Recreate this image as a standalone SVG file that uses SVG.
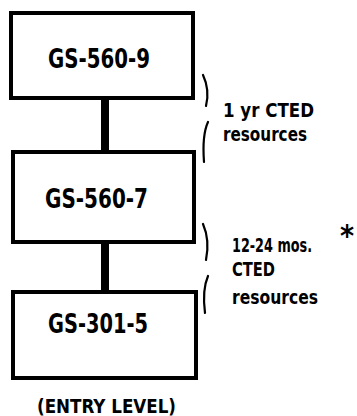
<svg xmlns="http://www.w3.org/2000/svg" width="357" height="416" viewBox="0 0 357 416">
<style>
.box{fill:#fff;stroke:#000;stroke-width:4}
.lbl{font-family:"DejaVu Sans Condensed","DejaVu Sans",sans-serif;font-stretch:condensed;font-weight:bold;font-size:27px;fill:#000}
.side{font-family:"DejaVu Sans Condensed","DejaVu Sans",sans-serif;font-stretch:condensed;font-weight:bold;font-size:19px;fill:#000}
.brace{fill:none;stroke:#000;stroke-width:2.2;stroke-linecap:round}
.conn{fill:none;stroke:#000;stroke-width:8}
</style>
<rect width="357" height="416" fill="#fff"/>
<g id="connectors">
<line class="conn" x1="105" y1="98" x2="105" y2="152"/>
<line class="conn" x1="105" y1="242" x2="105" y2="292"/>
</g>
<g id="node-gs-560-9">
<rect class="box" x="11" y="13" width="182" height="85"/>
<text class="lbl" x="48" y="68" textLength="102" lengthAdjust="spacingAndGlyphs">GS-560-9</text>
</g>
<g id="node-gs-560-7">
<rect class="box" x="13" y="152" width="181" height="90"/>
<text class="lbl" x="45" y="208" textLength="103" lengthAdjust="spacingAndGlyphs">GS-560-7</text>
</g>
<g id="node-gs-301-5">
<rect class="box" x="13" y="292" width="183" height="86"/>
<text class="lbl" x="48" y="333" textLength="100" lengthAdjust="spacingAndGlyphs">GS-301-5</text>
<text class="side" x="37" y="413" textLength="139" lengthAdjust="spacingAndGlyphs">(ENTRY LEVEL)</text>
</g>
<g id="note-1yr">
<path class="brace" d="M203 75 Q210 90 206 106"/>
<path class="brace" d="M208 122 Q202 135 204 162"/>
<text class="side" x="223" y="117" textLength="91" lengthAdjust="spacingAndGlyphs">1 yr CTED</text>
<text class="side" x="223" y="141" textLength="84" lengthAdjust="spacingAndGlyphs">resources</text>
</g>
<g id="note-12-24">
<path class="brace" d="M203 224 Q210 240 206 260"/>
<path class="brace" d="M208 276 Q202 290 205 313"/>
<text class="side" x="232" y="252" textLength="80" lengthAdjust="spacingAndGlyphs">12-24 mos.</text>
<text class="side" x="340" y="246" style="font-size:30px">*</text>
<text class="side" x="232" y="276" textLength="43" lengthAdjust="spacingAndGlyphs">CTED</text>
<text class="side" x="232" y="304" textLength="86" lengthAdjust="spacingAndGlyphs">resources</text>
</g>
</svg>
